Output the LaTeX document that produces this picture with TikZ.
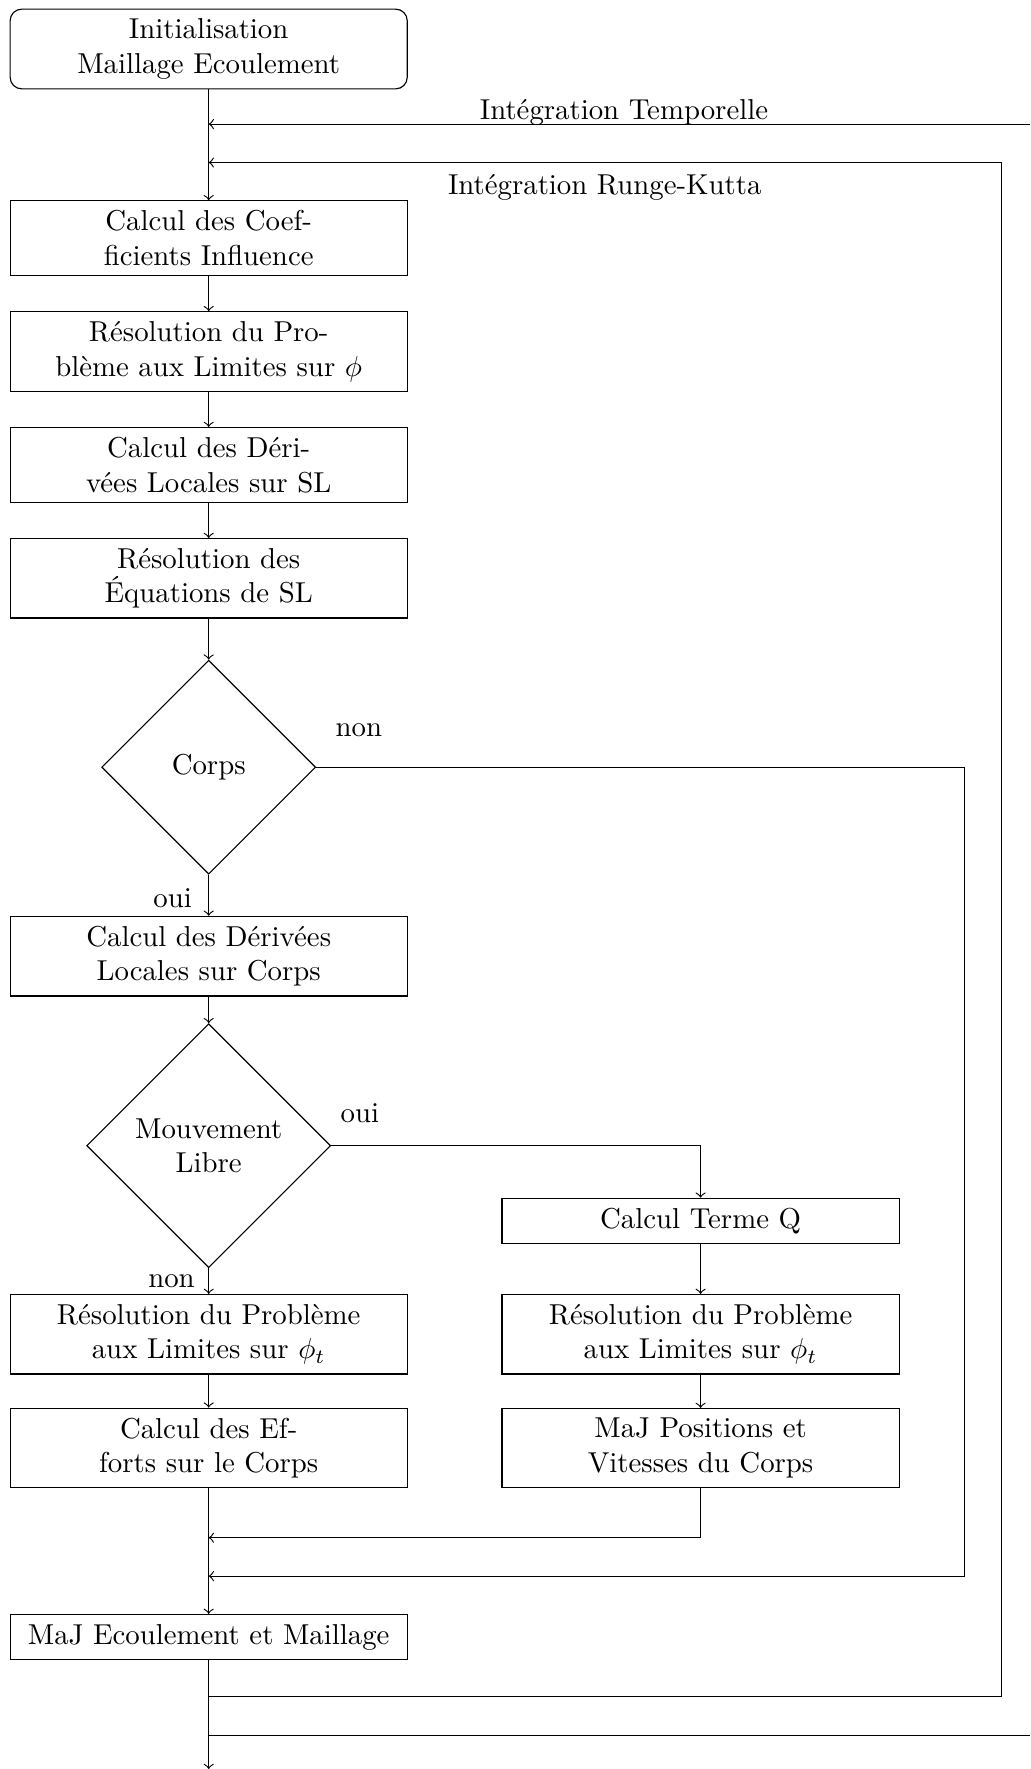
\documentclass[tikz,border=0pt]{standalone}
\usetikzlibrary{shapes.geometric,arrows}
\begin{document}
\begin{tikzpicture}[x=0.3472pt,y=-0.3472pt,
  stepbox/.style={draw,rectangle,text width=131.2pt,align=center,inner sep=3.333pt},
  startbox/.style={stepbox,rounded corners=4pt},
  decision/.style={draw,diamond,aspect=1,align=center,inner sep=0pt},
  flow/.style={->}]
\useasboundingbox (0,0) rectangle (1030,1769);
% nodes
\node[startbox] (init) at (208.7,49) {Initialisation\\Maillage Ecoulement};
\node[stepbox] (b1) at (208.7,238) {Calcul des Coef-\\ficients Influence};
\node[stepbox] (b2) at (208.7,351.5) {Résolution du Pro-\\blème aux Limites sur $\phi$};
\node[stepbox] (b3) at (208.7,464.9) {Calcul des Déri-\\vées Locales sur SL};
\node[stepbox] (b4) at (208.7,578.3) {Résolution des\\Équations de SL};
\node[decision,minimum width=74.3pt,minimum height=74.3pt] (corps) at (208.7,767.2) {Corps};
\node[stepbox] (b5) at (208.7,956.2) {Calcul des Dérivées\\Locales sur Corps};
\node[decision,minimum width=84.7pt,minimum height=84.7pt] (ml) at (208.7,1145.7) {Mouvement\\Libre};
\node[stepbox] (q) at (700.6,1220.8) {Calcul Terme Q};
\node[stepbox] (r1) at (208.7,1334.2) {Résolution du Problème\\aux Limites sur $\phi_t$};
\node[stepbox] (r2) at (700.6,1334.2) {Résolution du Problème\\aux Limites sur $\phi_t$};
\node[stepbox] (e1) at (208.7,1448) {Calcul des Ef-\\forts sur le Corps};
\node[stepbox] (e2) at (700.6,1448) {MaJ Positions et\\Vitesses du Corps};
\node[stepbox] (maj) at (208.7,1637) {MaJ Ecoulement et Maillage};
% labels
\node (lt) at (624,112.6) {Intégration Temporelle};
\node (lrk) at (604.7,187) {Intégration Runge-Kutta};
\node (lnon1) at (358.8,729.7) {non};
\node (loui1) at (172.6,897.9) {oui};
\node (loui2) at (359.9,1113.4) {oui};
\node (lnon2) at (171.5,1281.4) {non};
% coordinates
\coordinate (tTop) at (1030,124.1);
\coordinate (tBot) at (1030,1735.2);
\coordinate (rkTop) at (1001.8,162.5);
\coordinate (rkBot) at (1001.8,1696.8);
\coordinate (nonR) at (964.6,767.2);
\coordinate (nonB) at (964.6,1576.1);
\coordinate (mergeY) at (700.6,1537.7);
\coordinate (endP) at (208.7,1769);
% connectors
\draw[flow] (init.south) -- (b1.north);
\draw[flow] (tTop) -- (init.south |- tTop);
\draw[flow] (rkTop) -- (init.south |- rkTop);
\draw[flow] (b1) -- (b2);
\draw[flow] (b2) -- (b3);
\draw[flow] (b3) -- (b4);
\draw[flow] (b4.south) -- (corps.north);
\draw[flow] (corps.south) -- (b5.north);
\draw[flow] (corps.east) -- (nonR) -- (nonB) -- (maj.north |- nonB);
\draw[flow] (b5.south) -- (ml.north);
\draw[flow] (ml.east) -| (q.north);
\draw[flow] (ml.south) -- (r1.north);
\draw[flow] (q) -- (r2);
\draw[flow] (r2) -- (e2);
\draw[flow] (r1) -- (e1);
\draw[flow] (e1.south) -- (maj.north);
\draw[flow] (e2.south) -- (mergeY) -- (maj.north |- mergeY);
\draw[flow] (maj.south) -- (endP);
\draw (maj.south |- rkBot) -- (rkBot) -- (rkTop);
\draw (maj.south |- tBot) -- (tBot);
\end{tikzpicture}
\end{document}
